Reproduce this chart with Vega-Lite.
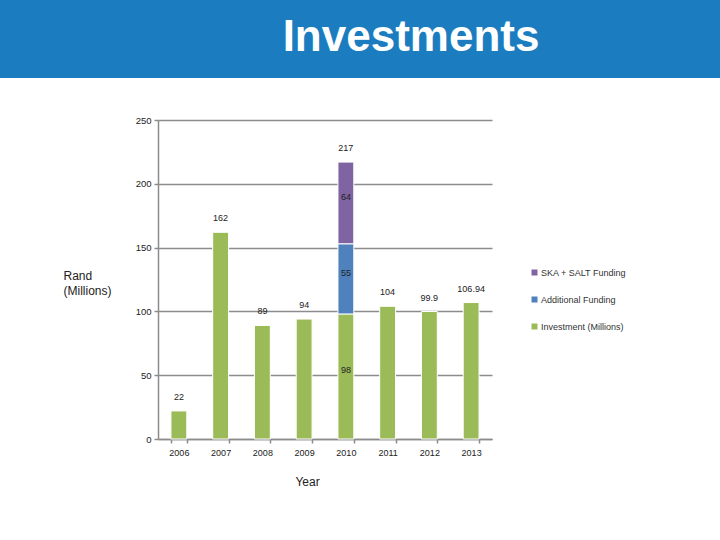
{
  "$schema": "https://vega.github.io/schema/vega-lite/v6.json",
  "padding": 0,
  "background": "white",
  "spacing": 37,
  "resolve": {"scale": {"color": "independent"}, "legend": {"color": "independent"}},
  "config": {
    "view": {"stroke": null},
    "font": "Liberation Sans"
  },
  "datasets": {
    "funding": [
      {"year": "2006", "series": "Investment (Millions)", "value": 22},
      {"year": "2007", "series": "Investment (Millions)", "value": 162},
      {"year": "2008", "series": "Investment (Millions)", "value": 89},
      {"year": "2009", "series": "Investment (Millions)", "value": 94},
      {"year": "2010", "series": "Investment (Millions)", "value": 98},
      {"year": "2010", "series": "Additional Funding", "value": 55},
      {"year": "2010", "series": "SKA + SALT Funding", "value": 64},
      {"year": "2011", "series": "Investment (Millions)", "value": 104},
      {"year": "2012", "series": "Investment (Millions)", "value": 99.9},
      {"year": "2013", "series": "Investment (Millions)", "value": 106.94}
    ]
  },
  "vconcat": [
    {
      "width": 720,
      "height": 78,
      "view": {"fill": "#1b7dc0", "stroke": null},
      "data": {"values": [{"title": "Investments"}]},
      "mark": {"type": "text", "color": "white", "font": "Liberation Sans", "fontWeight": "bold", "fontSize": 44, "dx": 51, "dy": -1, "align": "center", "baseline": "middle"},
      "encoding": {"text": {"field": "title", "type": "nominal"}}
    },
    {
      "spacing": 0,
      "resolve": {"scale": {"color": "independent"}, "legend": {"color": "independent"}},
      "hconcat": [
        {
          "width": 63,
          "height": 10,
          "view": {"fill": "white", "stroke": null},
          "data": {"values": [{"blank": ""}]},
          "mark": {"type": "text"},
          "encoding": {"text": {"field": "blank", "type": "nominal"}}
        },
        {
          "width": 334,
          "height": 319,
          "data": {"name": "funding"},
          "transform": [
            {"calculate": "indexof(['Investment (Millions)', 'Additional Funding', 'SKA + SALT Funding'], datum.series)", "as": "stackOrder"}
          ],
          "encoding": {
            "x": {
              "field": "year", "type": "ordinal",
              "scale": {"paddingInner": 0.62, "paddingOuter": 0.31},
              "axis": {
                "title": "Year", "labelAngle": 0, "labelFontSize": 9, "labelColor": "#222",
                "ticks": true, "tickBand": "extent", "tickSize": 4, "tickColor": "#8c8c8c", "tickWidth": 1.5,
                "labelPadding": 5,
                "domainColor": "#8c8c8c", "domainWidth": 1.5,
                "titleX": 149, "titleY": 37, "titleBaseline": "top", "titleAlign": "center",
                "titleFontSize": 12, "titleFontWeight": "normal", "titleColor": "#222"
              }
            }
          },
          "layer": [
            {
              "mark": {"type": "bar", "stroke": "white", "strokeWidth": 1},
              "encoding": {
                "y": {
                  "field": "value", "type": "quantitative", "stack": "zero",
                  "scale": {"domain": [0, 250], "nice": false},
                  "axis": {
                    "values": [0, 50, 100, 150, 200, 250],
                    "grid": true, "gridColor": "#8c8c8c", "gridWidth": 1.5,
                    "domainColor": "#8c8c8c", "domainWidth": 1.5,
                    "tickColor": "#8c8c8c", "tickSize": 4, "tickWidth": 1.5,
                    "labelFontSize": 9.5, "labelColor": "#222", "labelPadding": 3,
                    "title": ["Rand", "(Millions)"], "titleAngle": 0, "titleAlign": "left",
                    "titleX": -95, "titleY": 150, "titleBaseline": "top",
                    "titleFontSize": 12, "titleFontWeight": "normal", "titleColor": "#222",
                    "titleLineHeight": 15
                  }
                },
                "color": {
                  "field": "series", "type": "nominal",
                  "scale": {
                    "domain": ["SKA + SALT Funding", "Additional Funding", "Investment (Millions)"],
                    "range": ["#8064a2", "#4f81bd", "#9bbb59"]
                  },
                  "legend": {
                    "orient": "none", "legendX": 372, "legendY": 148, "padding": 0,
                    "title": null, "symbolType": "square", "symbolSize": 36,
                    "symbolStrokeWidth": 0, "labelFontSize": 9, "labelColor": "#333",
                    "rowPadding": 17, "labelOffset": 2
                  }
                },
                "order": {"field": "stackOrder", "type": "quantitative"}
              }
            },
            {
              "transform": [{"filter": "datum.year == '2010'"}],
              "mark": {"type": "text", "fontSize": 9, "dy": -6, "baseline": "middle", "color": "#222"},
              "encoding": {
                "y": {"field": "value", "type": "quantitative", "stack": "zero", "bandPosition": 0.5, "scale": {"domain": [0, 250], "nice": false}},
                "detail": {"field": "series", "type": "nominal"},
                "order": {"field": "stackOrder", "type": "quantitative"},
                "text": {"field": "value", "type": "quantitative"}
              }
            },
            {
              "mark": {"type": "text", "fontSize": 9, "dy": -14, "baseline": "middle", "color": "#222"},
              "encoding": {
                "y": {"aggregate": "sum", "field": "value", "type": "quantitative", "scale": {"domain": [0, 250], "nice": false}},
                "text": {"aggregate": "sum", "field": "value", "type": "quantitative"}
              }
            }
          ]
        }
      ]
    }
  ]
}
